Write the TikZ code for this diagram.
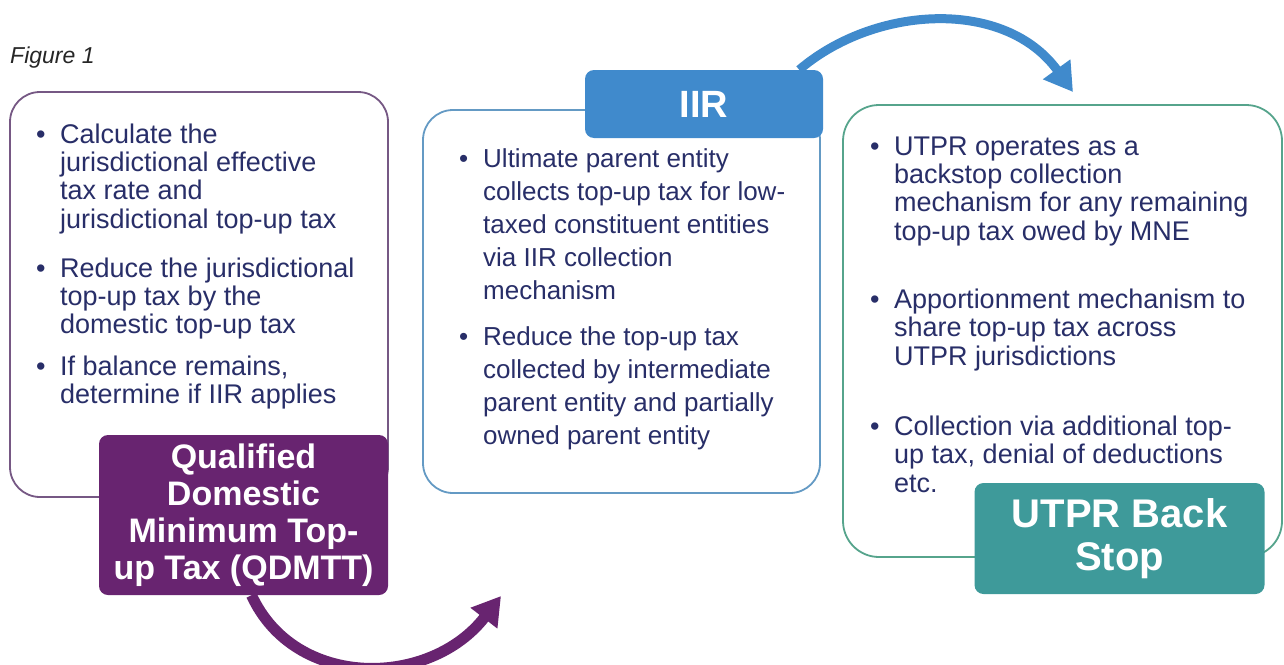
\documentclass[tikz,border=0pt]{standalone}
\usepackage{fontspec}
\setmainfont{Liberation Sans}
\usetikzlibrary{arrows.meta}
\definecolor{navy}{RGB}{40,46,104}
\definecolor{qpurple}{RGB}{104,36,112}
\definecolor{iirblue}{RGB}{64,138,204}
\definecolor{uteal}{RGB}{62,154,154}
\definecolor{lborder}{RGB}{118,88,132}
\definecolor{mborder}{RGB}{100,154,196}
\definecolor{rborder}{RGB}{86,164,140}
\newcommand{\btxt}[3]{\fontsize{#1}{#2}\selectfont\parbox[t]{420pt}{\raggedright #3}}
\tikzset{
  outline/.style={draw, line width=1.8pt, fill=white, rounded corners=30pt, inner sep=0pt},
  header/.style={rounded corners=9pt, inner sep=0pt, text=white, align=center, font=\bfseries},
  bul/.style={anchor=base west, inner sep=0pt, text=navy},
  arr/.style={line width=10pt, -{Triangle[length=28pt,width=32pt]}}
}
\begin{document}
\begin{tikzpicture}[x=1pt,y=-1pt]
\useasboundingbox (0,0) rectangle (1284,664);
\fill[white] (0,0) rectangle (1284,664);

\node[anchor=base west, inner sep=0pt, text=black!85, font=\fontsize{23}{26}\selectfont\itshape] (fig) at (10,63) {Figure 1};

% outline boxes
\node[outline, draw=lborder, minimum width=378pt, minimum height=405pt] (lbox) at (199,294.5) {};
\node[outline, draw=mborder, minimum width=397pt, minimum height=383pt] (mbox) at (621.5,301.5) {};
\node[outline, draw=rborder, minimum width=439pt, minimum height=452pt, rounded corners=36pt] (rbox) at (1062.5,331) {};

% header boxes
\node[header, fill=qpurple, minimum width=289pt, minimum height=160pt, font=\fontsize{34}{37}\selectfont\bfseries] (qdmtt) at (243.5,515) {Qualified\\Domestic\\Minimum Top-\\up Tax (QDMTT)};
\node[header, fill=iirblue, minimum width=238pt, minimum height=68pt, font=\fontsize{38}{42}\selectfont\bfseries] (iir) at (704,104) {IIR};
\node[header, fill=uteal, minimum width=290pt, minimum height=111pt, font=\fontsize{40}{43}\selectfont\bfseries] (utpr) at (1119.5,538.5) {UTPR Back\\Stop};

% left box bullets
\node[bul] (l1b) at (36,143) {\btxt{27}{28.4}{•}};
\node[bul] (l1) at (60,143) {\btxt{27}{28.4}{Calculate the\\jurisdictional effective\\tax rate and\\jurisdictional top-up tax}};
\node[bul] (l2b) at (36,277) {\btxt{27}{28.4}{•}};
\node[bul] (l2) at (60,277) {\btxt{27}{28.4}{Reduce the jurisdictional\\top-up tax by the\\domestic top-up tax}};
\node[bul] (l3b) at (36,375) {\btxt{27}{28.4}{•}};
\node[bul] (l3) at (60,375) {\btxt{27}{28.4}{If balance remains,\\determine if IIR applies}};

% middle box bullets
\node[bul] (m1b) at (459,167) {\btxt{26}{33}{•}};
\node[bul] (m1) at (483,167) {\btxt{26}{33}{Ultimate parent entity\\collects top-up tax for low-\\taxed constituent entities\\via IIR collection\\mechanism}};
\node[bul] (m2b) at (459,345) {\btxt{26}{33}{•}};
\node[bul] (m2) at (483,345) {\btxt{26}{33}{Reduce the top-up tax\\collected by intermediate\\parent entity and partially\\owned parent entity}};

% right box bullets
\node[bul] (r1b) at (870,155) {\btxt{27}{28.4}{•}};
\node[bul] (r1) at (894,155) {\btxt{27}{28.4}{UTPR operates as a\\backstop collection\\mechanism for any remaining\\top-up tax owed by MNE}};
\node[bul] (r2b) at (870,308) {\btxt{27}{28.5}{•}};
\node[bul] (r2) at (894,308) {\btxt{27}{28.5}{Apportionment mechanism to\\share top-up tax across\\UTPR jurisdictions}};
\node[bul] (r3b) at (870,435) {\btxt{27}{28.5}{•}};
\node[bul] (r3) at (894,435) {\btxt{27}{28.5}{Collection via additional top-\\up tax, denial of deductions\\etc.}};

% arrows
\coordinate (ptip) at (501,596);
\coordinate (btip) at (1073,92);
\draw[arr, line width=11pt, draw=qpurple] ([xshift=8pt]qdmtt.south) .. controls (295,690) and (430,688) .. (ptip);
\draw[arr, line width=9pt, draw=iirblue] ([xshift=-24pt]iir.north east) .. controls (875,5) and (1005,-2) .. (btip);
\end{tikzpicture}
\end{document}
